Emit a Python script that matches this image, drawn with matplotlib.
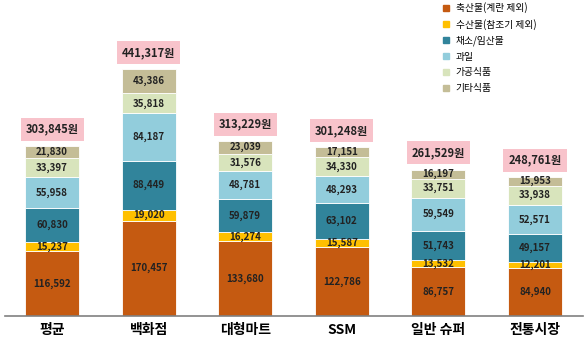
import matplotlib.pyplot as plt
from matplotlib.lines import Line2D

plt.rcParams['font.family'] = ['Noto Sans CJK KR', 'DejaVu Sans']

# data
stores = ['평균', '백화점', '대형마트', 'SSM', '일반 슈퍼', '전통시장']
groups = ['축산물(계란 제외)', '수산물(참조기 제외)', '채소/임산물', '과일', '가공식품', '기타식품']
meat = [116592, 170457, 133680, 122786, 86757, 84940]
fish = [15237, 19020, 16274, 15587, 13532, 12201]
veg = [60830, 88449, 59879, 63102, 51743, 49157]
fruit = [55958, 84187, 48781, 48293, 59549, 52571]
processed = [33397, 35818, 31576, 34330, 33751, 33938]
other = [21830, 43386, 23039, 17151, 16197, 15953]
totals = [303845, 441317, 313229, 301248, 261529, 248761]

colors = ['#C55A11', '#FFC000', '#31849B', '#92CDDC', '#D8E4BC', '#C4BD97']
series = [meat, fish, veg, fruit, processed, other]

fig = plt.figure(figsize=(5.88, 3.48), dpi=100)
ax = fig.add_axes([0.0085, 0.092, 0.983, 0.9])

x = list(range(len(stores)))
bottom = [0] * len(stores)
for vals, col in zip(series, colors):
    ax.bar(x, vals, bottom=bottom, width=0.56, color=col, edgecolor='white', linewidth=0.6)
    for i, v in enumerate(vals):
        ax.text(x[i], bottom[i] + v / 2, f'{v:,}', ha='center', va='center',
                fontsize=7, fontweight='bold', color='#222222')
    bottom = [b + v for b, v in zip(bottom, vals)]

# totals in pink boxes
for i, t in enumerate(totals):
    ax.text(x[i], t + 30000, f'{t:,}원', ha='center', va='center', fontsize=8,
            fontweight='bold', color='#222222',
            bbox=dict(boxstyle='square,pad=0.45', facecolor='#F8C3CB', edgecolor='none'))

ax.set_xlim(-0.487, 5.497)
ax.set_ylim(0, 560000)
ax.set_xticks(x)
ax.set_xticklabels(stores, fontsize=10, fontweight='bold')
ax.tick_params(axis='x', length=0, pad=5)
ax.set_yticks([])
for s in ['top', 'right', 'left']:
    ax.spines[s].set_visible(False)
ax.spines['bottom'].set_color('#808080')
ax.spines['bottom'].set_linewidth(1.2)

handles = [Line2D([0], [0], marker='s', linestyle='none', markersize=4,
                  markerfacecolor=c, markeredgecolor=c) for c in colors]
fig.legend(handles, groups, loc='upper left', bbox_to_anchor=(0.735, 1.018),
           frameon=False, fontsize=7, handlelength=1.0, handletextpad=0.5,
           labelspacing=0.58)

fig.savefig('out.png', dpi=100)
